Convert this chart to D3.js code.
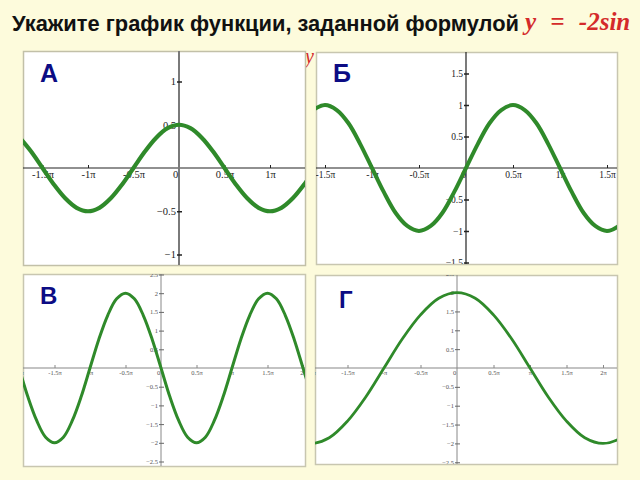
<!DOCTYPE html>
<html><head><meta charset="utf-8">
<script src="https://cdn.jsdelivr.net/npm/d3@7"></script>
<style>html,body{margin:0;padding:0;background:#fdfbdc;}svg{display:block;}</style>
</head><body>
<script>
// ---------- data (x in units of π, y values) ----------
const titleText = "Укажите график функции, заданной формулой";
const formulaText = "y = -2sin";
const panelLetters = ["А", "Б", "В", "Г"];

const aX = [-1.75,-1.625,-1.5,-1.375,-1.25,-1.125,-1,-0.875,-0.75,-0.625,-0.5,-0.375,-0.25,-0.125,0,0.125,0.25,0.375,0.5,0.625,0.75,0.875,1,1.125,1.25,1.375,1.5];
const aY = [0.35,0.19,0,-0.19,-0.35,-0.46,-0.5,-0.46,-0.35,-0.19,0,0.19,0.35,0.46,0.5,0.46,0.35,0.19,0,-0.19,-0.35,-0.46,-0.5,-0.46,-0.35,-0.19,0];
const aXTicks = [-1.5,-1,-0.5,0,0.5,1];
const aXLabels = ["-1.5π","-1π","-0.5π","0","0.5π","1π"];
const aYTicks = [1,0.5,-0.5,-1];
const aYLabels = ["1","0.5","−0.5","−1"];

const bX = [-1.75,-1.625,-1.5,-1.375,-1.25,-1.125,-1,-0.875,-0.75,-0.625,-0.5,-0.375,-0.25,-0.125,0,0.125,0.25,0.375,0.5,0.625,0.75,0.875,1,1.125,1.25,1.375,1.5,1.625,1.75];
const bY = [0.71,0.92,1,0.92,0.71,0.38,0,-0.38,-0.71,-0.92,-1,-0.92,-0.71,-0.38,0,0.38,0.71,0.92,1,0.92,0.71,0.38,0,-0.38,-0.71,-0.92,-1,-0.92,-0.71];
const bXTicks = [-1.5,-1,-0.5,0,0.5,1,1.5];
const bXLabels = ["-1.5π","-1π","-0.5π","0","0.5π","1π","1.5π"];
const bYTicks = [1.5,1,0.5,-0.5,-1,-1.5];
const bYLabels = ["1.5","1","0.5","−0.5","−1","−1.5"];

const vX = [-2.125,-2,-1.875,-1.75,-1.625,-1.5,-1.375,-1.25,-1.125,-1,-0.875,-0.75,-0.625,-0.5,-0.375,-0.25,-0.125,0,0.125,0.25,0.375,0.5,0.625,0.75,0.875,1,1.125,1.25,1.375,1.5,1.625,1.75,1.875,2,2.125];
const vY = [0.77,0,-0.77,-1.41,-1.85,-2,-1.85,-1.41,-0.77,0,0.77,1.41,1.85,2,1.85,1.41,0.77,0,-0.77,-1.41,-1.85,-2,-1.85,-1.41,-0.77,0,0.77,1.41,1.85,2,1.85,1.41,0.77,0,-0.77];
const vXTicks = [-2,-1.5,-1,-0.5,0,0.5,1,1.5,2];
const vXLabels = ["-2π","-1.5π","-π","-0.5π","0","0.5π","π","1.5π","2π"];
const vYTicks = [2.5,2,1.5,1,0.5,-0.5,-1,-1.5,-2,-2.5];
const vYLabels = ["2.5","2","1.5","1","0.5","−0.5","−1","−1.5","−2","−2.5"];

const gX = [-2.5,-2.25,-2,-1.75,-1.5,-1.25,-1,-0.75,-0.5,-0.25,0,0.25,0.5,0.75,1,1.25,1.5,1.75,2,2.25,2.5];
const gY = [-1.41,-1.85,-2,-1.85,-1.41,-0.77,0,0.77,1.41,1.85,2,1.85,1.41,0.77,0,-0.77,-1.41,-1.85,-2,-1.85,-1.41];
const gXTicks = [-2,-1.5,-1,-0.5,0,0.5,1,1.5,2];
const gXLabels = ["-2π","-1.5π","-π","-0.5π","0","0.5π","π","1.5π","2π"];
const gYTicks = [2.5,2,1.5,1,0.5,-0.5,-1,-1.5,-2,-2.5];
const gYLabels = ["2.5","2","1.5","1","0.5","−0.5","−1","−1.5","−2","−2.5"];

// ---------- layout ----------
const W = 640, H = 480;
const svg = d3.select("body").append("svg").attr("width", W).attr("height", H);
svg.append("rect").attr("width", W).attr("height", H).attr("fill", "#fdfbdc");

// title
const t1 = svg.append("text").attr("x", 12).attr("y", 31)
  .attr("font-family", "Liberation Sans, Arial, sans-serif").attr("font-weight", "bold")
  .attr("font-size", 18).attr("fill", "#111").text(titleText);
let w1 = t1.node().getComputedTextLength();
t1.attr("font-size", 18 * 507 / w1);
svg.append("text").attr("x", 525).attr("y", 30)
  .attr("font-family", "Liberation Serif, Times New Roman, serif").attr("font-style", "italic").attr("font-weight", "bold")
  .attr("font-size", 25).attr("word-spacing", 8).attr("fill", "#d42a2a").text(formulaText);
// stray red "y" peeking between panels
svg.append("text").attr("x", 305).attr("y", 63)
  .attr("font-family", "Liberation Serif, serif").attr("font-style", "italic")
  .attr("font-size", 20).attr("fill", "#d42a2a").text("y");

const panels = [
  {x0:23, y0:51, x1:305, y1:265, ox:179, oy:168, px:91, py:86.5, xs:aX, ys:aY, xt:aXTicks, xl:aXLabels, yt:aYTicks, yl:aYLabels,
   letter:panelLetters[0], lx:40, ly:82, lfs:25, fs:10.5, lc:"#222", sw:4.2, xAxisColor:"#222", yAxisColor:"#7a7a7a", yAxisW:2, border:"#c2c0a8", zeroDx:-4},
  {x0:316, y0:52, x1:617, y1:264, ox:466, oy:168, px:94, py:63, xs:bX, ys:bY, xt:bXTicks, xl:bXLabels, yt:bYTicks, yl:bYLabels,
   letter:panelLetters[1], lx:333, ly:82, lfs:25, fs:9.5, lc:"#222", sw:4, xAxisColor:"#222", yAxisColor:"#222", yAxisW:1.2, border:"#c8c6b0", zeroDx:-3},
  {x0:23, y0:274, x1:305, y1:466, ox:161, oy:368, px:71, py:37.4, xs:vX, ys:vY, xt:vXTicks, xl:vXLabels, yt:vYTicks, yl:vYLabels,
   letter:panelLetters[2], lx:40, ly:304, lfs:24, fs:6.5, lc:"#555", sw:3, xAxisColor:"#888", yAxisColor:"#888", yAxisW:1, border:"#c8c6b0", zeroDx:-3},
  {x0:315, y0:275, x1:617, y1:464, ox:457, oy:368, px:73, py:37.7, xs:gX, ys:gY, xt:gXTicks, xl:gXLabels, yt:gYTicks, yl:gYLabels,
   letter:panelLetters[3], lx:339, ly:308, lfs:24, fs:6.5, lc:"#555", sw:2.8, xAxisColor:"#888", yAxisColor:"#888", yAxisW:1, border:"#c8c6b0", zeroDx:-3}
];

panels.forEach((p, i) => {
  const g = svg.append("g");
  const clipId = "clip" + i;
  svg.append("clipPath").attr("id", clipId).append("rect")
    .attr("x", p.x0).attr("y", p.y0).attr("width", p.x1 - p.x0).attr("height", p.y1 - p.y0);
  g.append("rect").attr("x", p.x0 + 0.5).attr("y", p.y0 + 0.5).attr("width", p.x1 - p.x0).attr("height", p.y1 - p.y0)
    .attr("fill", "#ffffff").attr("stroke", p.border).attr("stroke-width", 1.5);

  const x = d3.scaleLinear().domain([(p.x0 - p.ox) / p.px, (p.x1 - p.ox) / p.px]).range([p.x0, p.x1]);
  const y = d3.scaleLinear().domain([(p.oy - p.y1) / p.py, (p.oy - p.y0) / p.py]).range([p.y1, p.y0]);

  const inner = g.append("g").attr("clip-path", `url(#${clipId})`);

  // axis lines
  inner.append("line").attr("x1", p.x0).attr("x2", p.x1).attr("y1", y(0)).attr("y2", y(0))
    .attr("stroke", p.xAxisColor).attr("stroke-width", 1.2);
  inner.append("line").attr("x1", x(0)).attr("x2", x(0)).attr("y1", p.y0).attr("y2", p.y1)
    .attr("stroke", p.yAxisColor).attr("stroke-width", p.yAxisW);

  // x axis ticks/labels
  const xa = d3.axisBottom(x).tickValues(p.xt).tickFormat((d, k) => p.xl[k])
    .tickSizeInner(-3).tickSizeOuter(0).tickPadding(p.fs > 8 ? 3 : 2);
  const xg = inner.append("g").attr("transform", `translate(0,${y(0)})`).call(xa);
  xg.select(".domain").remove();
  xg.selectAll("line").attr("stroke", p.xAxisColor);
  xg.selectAll("text").attr("font-family", "Liberation Serif, Times New Roman, serif")
    .attr("font-size", p.fs).attr("fill", p.lc)
    .attr("dx", d => d === 0 ? p.zeroDx : 0);
  xg.selectAll(".tick").filter(d => d === 0).select("line").remove();

  // y axis ticks/labels
  const ya = d3.axisLeft(y).tickValues(p.yt).tickFormat((d, k) => p.yl[k])
    .tickSizeInner(-3).tickSizeOuter(0).tickPadding(3);
  const yg = inner.append("g").attr("transform", `translate(${x(0)},0)`).call(ya);
  yg.select(".domain").remove();
  yg.selectAll("line").attr("stroke", p.fs > 8 ? "#222" : "#666").attr("x1", -2).attr("stroke-width", p.fs > 8 ? 1.5 : 1);
  yg.selectAll("text").attr("font-family", "Liberation Serif, Times New Roman, serif")
    .attr("font-size", p.fs).attr("fill", p.lc);

  // curve
  const pts = p.xs.map((v, k) => [v, p.ys[k]]);
  const line = d3.line().x(d => x(d[0])).y(d => y(d[1])).curve(d3.curveCatmullRom.alpha(0.5));
  inner.append("path").datum(pts).attr("d", line).attr("fill", "none")
    .attr("stroke", "#2f8a2a").attr("stroke-width", p.sw).attr("stroke-linejoin", "round");

  // panel letter
  g.append("text").attr("x", p.lx).attr("y", p.ly)
    .attr("font-family", "Liberation Sans, Arial, sans-serif").attr("font-weight", "bold")
    .attr("font-size", p.lfs).attr("fill", "#0c0c84").text(p.letter);
});
</script>
</body></html>
